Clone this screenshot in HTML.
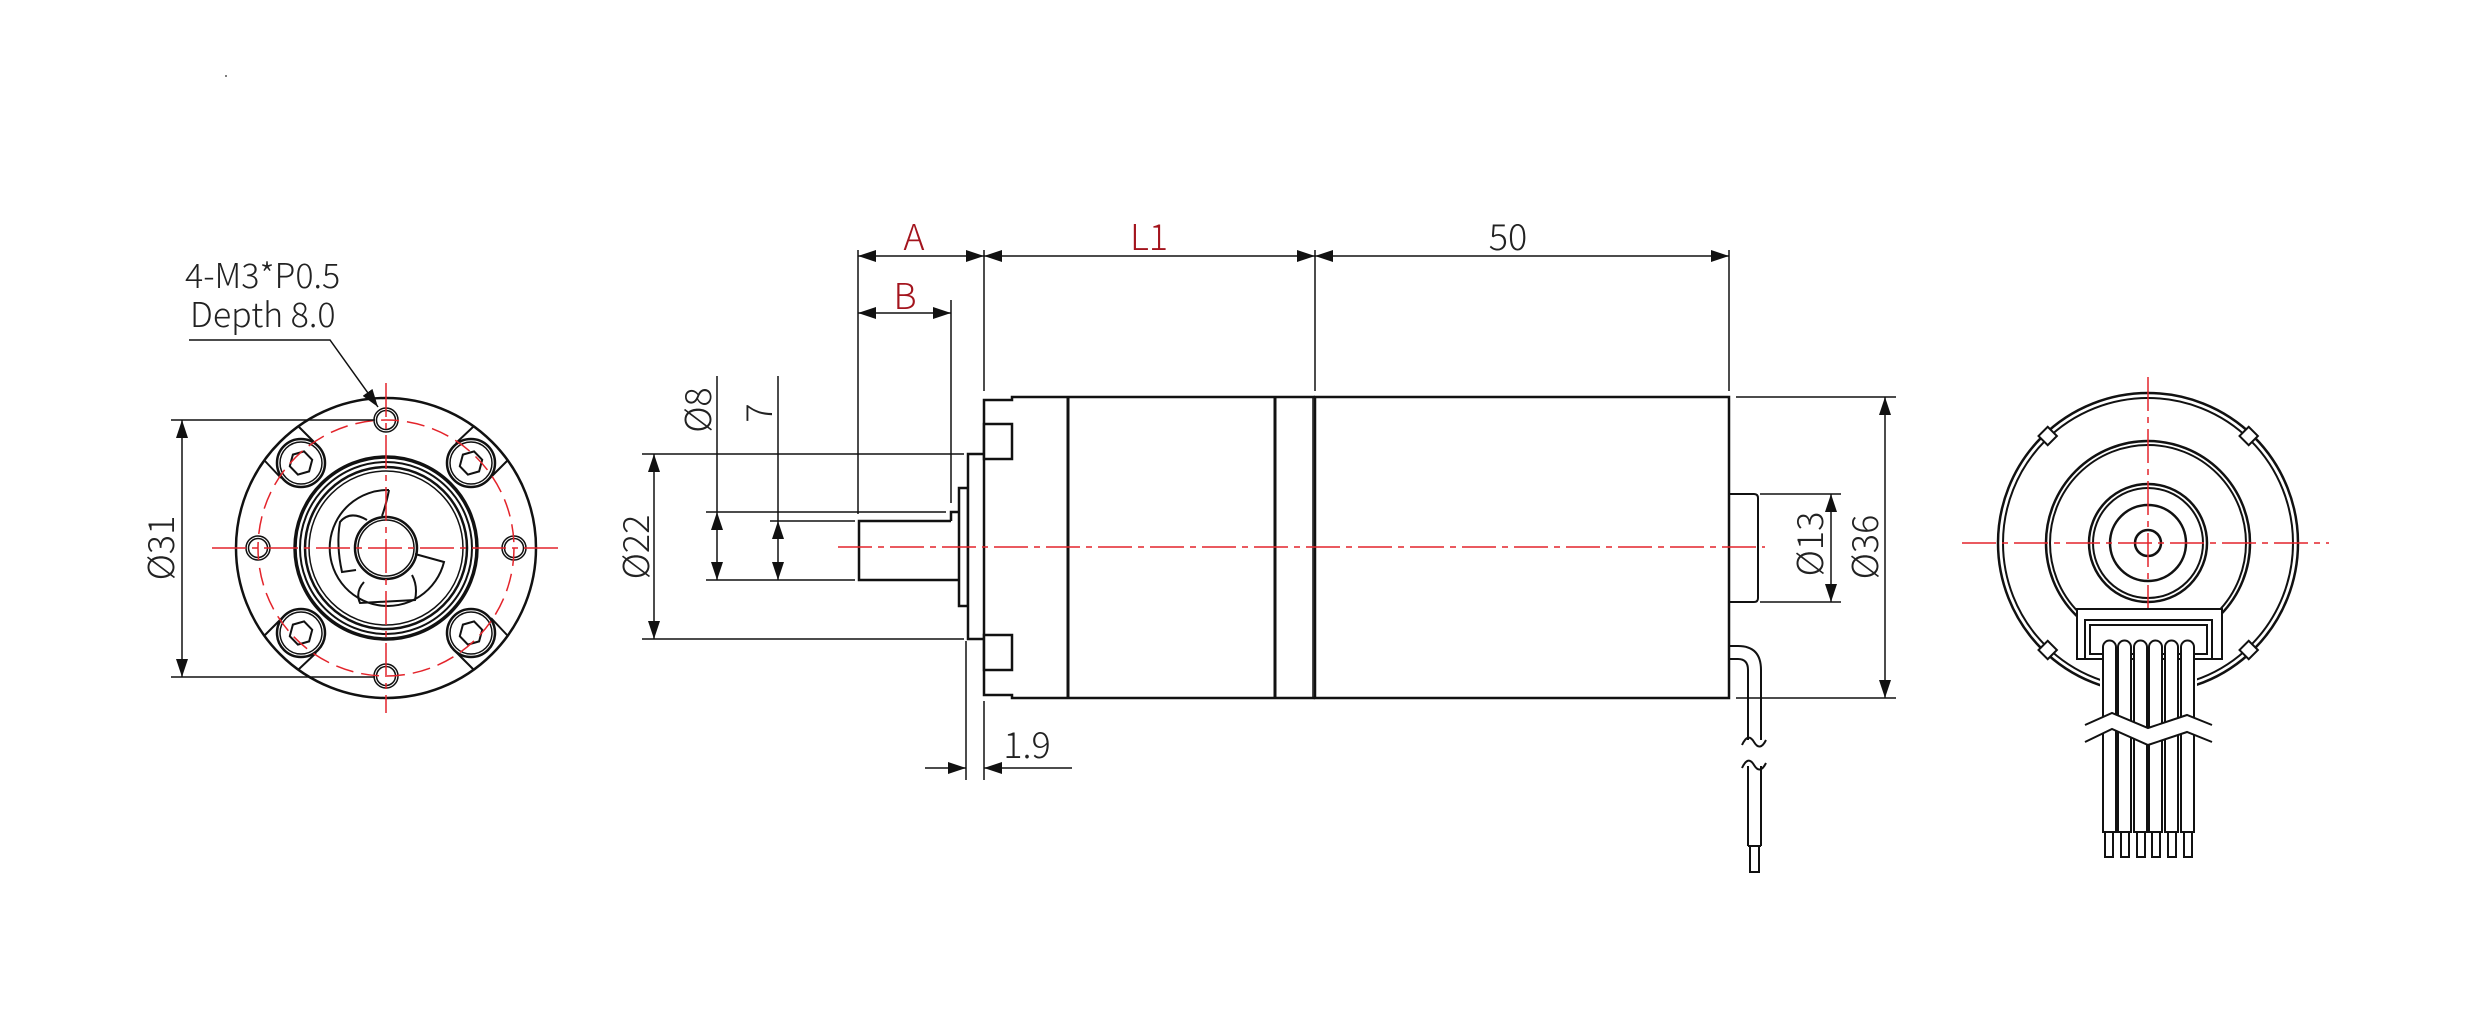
<!DOCTYPE html>
<html><head><meta charset="utf-8"><style>
html,body{margin:0;padding:0;background:#fff;}
svg{display:block;}
text{font-family:"Noto Sans CJK SC","Liberation Sans",sans-serif;font-weight:300;fill:#222;}
</style></head><body>
<svg width="2481" height="1015" viewBox="0 0 2481 1015" xmlns="http://www.w3.org/2000/svg">
<defs>
<marker id="ar" viewBox="0 0 18 12" markerWidth="18" markerHeight="12" refX="18" refY="6" orient="auto-start-reverse" markerUnits="userSpaceOnUse">
<path d="M0,0 L18,6 L0,12 z" fill="#111"/></marker>
</defs>
<rect width="2481" height="1015" fill="#fff"/>
<circle cx="226" cy="76" r="1" fill="#555"/>

<!-- ========== LEFT FRONT VIEW ========== -->
<g fill="none" stroke="#111">
<circle cx="386" cy="548" r="150" stroke-width="2.5"/>
<!-- radial ear lines -->
<g stroke-width="2">
<g transform="rotate(0 386 548)"><line x1="299" y1="427" x2="316" y2="444"/><line x1="265" y1="461" x2="281" y2="478"/></g>
<g transform="rotate(90 386 548)"><line x1="299" y1="427" x2="316" y2="444"/><line x1="265" y1="461" x2="281" y2="478"/></g>
<g transform="rotate(180 386 548)"><line x1="299" y1="427" x2="316" y2="444"/><line x1="265" y1="461" x2="281" y2="478"/></g>
<g transform="rotate(270 386 548)"><line x1="299" y1="427" x2="316" y2="444"/><line x1="265" y1="461" x2="281" y2="478"/></g>
</g>
<!-- bosses -->
<g stroke-width="2.5">
<circle cx="301" cy="463" r="24"/><circle cx="301" cy="463" r="21" stroke-width="1.5"/>
<circle cx="471" cy="463" r="24"/><circle cx="471" cy="463" r="21" stroke-width="1.5"/>
<circle cx="301" cy="633" r="24"/><circle cx="301" cy="633" r="21" stroke-width="1.5"/>
<circle cx="471" cy="633" r="24"/><circle cx="471" cy="633" r="21" stroke-width="1.5"/>
</g>
<g stroke-width="2">
<polygon points="301,451 311,457 311,469 301,475 291,469 291,457" transform="rotate(15 301 463)"/>
<polygon points="471,451 481,457 481,469 471,475 461,469 461,457" transform="rotate(15 471 463)"/>
<polygon points="301,621 311,627 311,639 301,645 291,639 291,627" transform="rotate(15 301 633)"/>
<polygon points="471,621 481,627 481,639 471,645 461,639 461,627" transform="rotate(15 471 633)"/>
</g>
<!-- tapped holes -->
<g stroke-width="1.5">
<circle cx="386" cy="420" r="12"/><circle cx="386" cy="420" r="9.5"/>
<circle cx="386" cy="676" r="12"/><circle cx="386" cy="676" r="9.5"/>
<circle cx="258" cy="548" r="12"/><circle cx="258" cy="548" r="9.5"/>
<circle cx="514" cy="548" r="12"/><circle cx="514" cy="548" r="9.5"/>
</g>
<!-- rings -->
<circle cx="386" cy="548" r="91" stroke-width="3.5"/>
<circle cx="386" cy="548" r="86" stroke-width="2"/>
<circle cx="386" cy="548" r="81" stroke-width="2.5"/>
<circle cx="386" cy="548" r="77" stroke-width="1.5"/>
<circle cx="386" cy="548" r="31" stroke-width="2.5"/>
<circle cx="386" cy="548" r="28" stroke-width="1.5"/>
<!-- cam -->
<path d="M389,490 A58,58 0 1 0 444,562 L415,554" stroke-width="2"/>
<path d="M389,490 Q386,505 382,516" stroke-width="2"/>
<path d="M367,520 Q350,510 340,522 Q336,545 342,572 L356,570" stroke-width="2"/>
<path d="M364,582 Q355,592 360,603 L415,600 Q418,586 412,575" stroke-width="2"/>
</g>
<!-- red -->
<g stroke="#e3242b" fill="none" stroke-width="1.5">
<circle cx="386" cy="548" r="128" stroke-dasharray="18 8"/>
<line x1="212" y1="548" x2="560" y2="548" stroke-dasharray="34 6 6 6"/>
<line x1="386" y1="383" x2="386" y2="713" stroke-dasharray="34 6 6 6"/>
</g>
<!-- dims -->
<g stroke="#111" stroke-width="1.5" fill="none">
<line x1="171" y1="420" x2="375" y2="420"/>
<line x1="171" y1="677" x2="375" y2="677"/>
<line x1="182" y1="420" x2="182" y2="677" marker-start="url(#ar)" marker-end="url(#ar)"/>
<polyline points="189,340 330,340 378,407" marker-end="url(#ar)"/>
</g>
<text x="185" y="288" font-size="34">4-M3*P0.5</text>
<text x="190" y="327" font-size="34">Depth 8.0</text>
<text transform="translate(174 548) rotate(-90)" font-size="36" text-anchor="middle">Ø31</text>

<!-- ========== SIDE VIEW ========== -->
<g fill="none" stroke="#111" stroke-width="2.5">
<!-- shaft -->
<path d="M951,521 H859 V580 H959"/>
<path d="M951,521 V512 H959"/>
<rect x="959" y="488" width="9" height="118" fill="#fff"/>
<rect x="968" y="454" width="16" height="185" fill="#fff"/>
<!-- gearbox body -->
<path d="M984,454 V400 H1012 V397 H1315 M984,639 V695 H1012 V698 H1315"/>
<rect x="984" y="424" width="28" height="35" fill="#fff"/>
<rect x="984" y="635" width="28" height="35" fill="#fff"/>
<line x1="1068" y1="397" x2="1068" y2="698" stroke-width="3"/>
<line x1="1275" y1="397" x2="1275" y2="698" stroke-width="3"/>
<rect x="1315" y="397" width="414" height="301"/>
<line x1="1313" y1="397" x2="1313" y2="698" stroke-width="1.5"/>
<!-- encoder -->
<path d="M1729,494 H1754 Q1758,494 1758,498 V598 Q1758,602 1754,602 H1729" stroke-width="2"/>
<!-- cable -->
<path d="M1729,646 H1738 Q1761,646 1761,670 V740" stroke-width="2"/>
<path d="M1729,659 H1738 Q1748,659 1748,670 V740" stroke-width="2"/>
<path d="M1748,766 V846 M1761,766 V846 M1748,846 H1761" stroke-width="2"/>
<rect x="1750" y="846" width="9" height="26" stroke-width="2"/>
<path d="M1742,745 Q1748,732 1754,742 Q1760,752 1766,740" stroke-width="2"/>
<path d="M1742,768 Q1748,755 1754,765 Q1760,775 1766,763" stroke-width="2"/>
</g>
<line x1="838" y1="547" x2="1765" y2="547" stroke="#e3242b" stroke-width="1.5" stroke-dasharray="34 6 6 6"/>
<!-- dims -->
<g stroke="#111" stroke-width="1.5" fill="none">
<line x1="858" y1="250" x2="858" y2="514"/>
<line x1="951" y1="300" x2="951" y2="503"/>
<line x1="984" y1="250" x2="984" y2="391"/>
<line x1="1315" y1="250" x2="1315" y2="391"/>
<line x1="1729" y1="250" x2="1729" y2="391"/>
<line x1="858" y1="256" x2="984" y2="256" marker-start="url(#ar)" marker-end="url(#ar)"/>
<line x1="984" y1="256" x2="1315" y2="256" marker-start="url(#ar)" marker-end="url(#ar)"/>
<line x1="1315" y1="256" x2="1729" y2="256" marker-start="url(#ar)" marker-end="url(#ar)"/>
<line x1="858" y1="313" x2="951" y2="313" marker-start="url(#ar)" marker-end="url(#ar)"/>
<!-- Ø22 -->
<line x1="642" y1="454" x2="964" y2="454"/>
<line x1="642" y1="639" x2="964" y2="639"/>
<line x1="654" y1="454" x2="654" y2="639" marker-start="url(#ar)" marker-end="url(#ar)"/>
<!-- Ø8 -->
<line x1="706" y1="512" x2="946" y2="512"/>
<line x1="706" y1="580" x2="855" y2="580"/>
<line x1="717" y1="376" x2="717" y2="512"/>
<line x1="717" y1="512" x2="717" y2="580" marker-start="url(#ar)" marker-end="url(#ar)"/>
<!-- 7 -->
<line x1="770" y1="521" x2="855" y2="521"/>
<line x1="778" y1="376" x2="778" y2="521"/>
<line x1="778" y1="521" x2="778" y2="580" marker-start="url(#ar)" marker-end="url(#ar)"/>
<!-- 1.9 -->
<line x1="966" y1="641" x2="966" y2="780"/>
<line x1="984" y1="701" x2="984" y2="780"/>
<line x1="925" y1="768" x2="966" y2="768" marker-end="url(#ar)"/>
<line x1="1072" y1="768" x2="984" y2="768" marker-end="url(#ar)"/>
<!-- Ø13 / Ø36 -->
<line x1="1760" y1="494" x2="1841" y2="494"/>
<line x1="1760" y1="602" x2="1841" y2="602"/>
<line x1="1831" y1="494" x2="1831" y2="602" marker-start="url(#ar)" marker-end="url(#ar)"/>
<line x1="1736" y1="397" x2="1896" y2="397"/>
<line x1="1736" y1="698" x2="1896" y2="698"/>
<line x1="1885" y1="397" x2="1885" y2="698" marker-start="url(#ar)" marker-end="url(#ar)"/>
</g>
<g font-size="36" text-anchor="middle">
<text x="914" y="250" fill="#a3141d" style="fill:#a3141d">A</text>
<text x="905" y="309" style="fill:#a3141d">B</text>
<text x="1149" y="250" style="fill:#a3141d">L1</text>
<text x="1508" y="250">50</text>
<text x="1027" y="758">1.9</text>
<text transform="translate(649 547) rotate(-90)">Ø22</text>
<text transform="translate(711 410) rotate(-90)">Ø8</text>
<text transform="translate(772 413) rotate(-90)">7</text>
<text transform="translate(1823 544) rotate(-90)">Ø13</text>
<text transform="translate(1878 547) rotate(-90)">Ø36</text>
</g>

<!-- ========== RIGHT END VIEW ========== -->
<g fill="none" stroke="#111" stroke-width="2">
<circle cx="2148" cy="543" r="150" stroke-width="2.5"/>
<circle cx="2148" cy="543" r="145"/>
<g fill="#fff">
<rect x="2041" y="429" width="13" height="13" transform="rotate(45 2047 436)"/>
<rect x="2242" y="429" width="13" height="13" transform="rotate(45 2248 436)"/>
<rect x="2041" y="643" width="13" height="13" transform="rotate(45 2047 650)"/>
<rect x="2242" y="643" width="13" height="13" transform="rotate(45 2248 650)"/>
</g>
<circle cx="2148" cy="543" r="102" stroke-width="2.5"/>
<circle cx="2148" cy="543" r="98"/>
<circle cx="2148" cy="543" r="59" stroke-width="2.5"/>
<circle cx="2148" cy="543" r="55"/>
<circle cx="2148" cy="543" r="38" stroke-width="2.5"/>
<circle cx="2148" cy="543" r="13" stroke-width="2.5"/>
</g>
<g stroke="#e3242b" stroke-width="1.5" fill="none" stroke-dasharray="34 6 6 6">
<line x1="1962" y1="543" x2="2329" y2="543"/>
<line x1="2148" y1="377" x2="2148" y2="710"/>
</g>
<g stroke="#111" stroke-width="2" fill="#fff">
<rect x="2100" y="655" width="97" height="46" stroke="none"/>
<rect x="2077" y="609" width="145" height="50"/>
<rect x="2085" y="620" width="127" height="39" fill="none"/>
<rect x="2090" y="625" width="117" height="29" fill="none"/>
<path d="M2103,832 V647 a6.5,6.5 0 0 1 13,0 V832 z"/>
<path d="M2118,832 V647 a6.5,6.5 0 0 1 13,0 V832 z"/>
<path d="M2134,832 V647 a6.5,6.5 0 0 1 13,0 V832 z"/>
<path d="M2149,832 V647 a6.5,6.5 0 0 1 13,0 V832 z"/>
<path d="M2165,832 V647 a6.5,6.5 0 0 1 13,0 V832 z"/>
<path d="M2181,832 V647 a6.5,6.5 0 0 1 13,0 V832 z"/>
<rect x="2105" y="832" width="8" height="25"/>
<rect x="2121" y="832" width="8" height="25"/>
<rect x="2137" y="832" width="8" height="25"/>
<rect x="2152" y="832" width="8" height="25"/>
<rect x="2168" y="832" width="8" height="25"/>
<rect x="2184" y="832" width="8" height="25"/>
<polygon points="2085,725 2112,713 2148,728 2187,715 2212,725 2212,742 2187,732 2148,745 2112,729 2085,742" stroke="none"/>
<polyline points="2085,725 2112,713 2148,728 2187,715 2212,725" fill="none"/>
<polyline points="2085,742 2112,729 2148,745 2187,732 2212,742" fill="none"/>
</g>
</svg>
</body></html>
